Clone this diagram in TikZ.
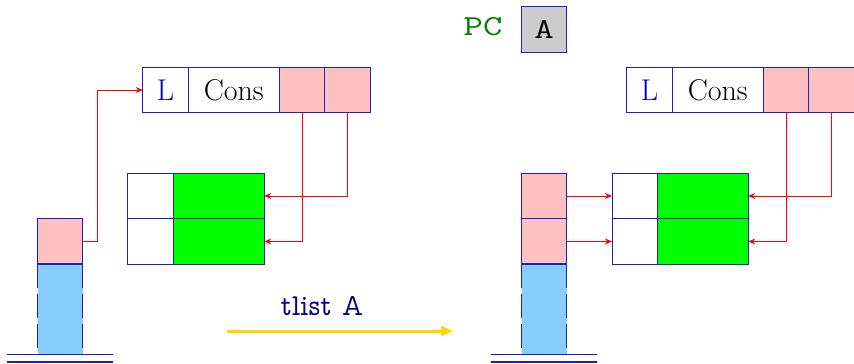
\documentclass[tikz,border=0pt]{standalone}
\usepackage{fontspec}
\usetikzlibrary{arrows.meta}
\definecolor{cellblue}{RGB}{30,30,200}
\definecolor{pinkc}{RGB}{255,192,192}
\definecolor{greenc}{RGB}{0,255,0}
\definecolor{skyc}{RGB}{135,206,250}
\definecolor{grayc}{RGB}{204,204,204}
\definecolor{pcgreen}{RGB}{0,128,0}
\definecolor{navyc}{RGB}{0,0,150}
\definecolor{goldc}{RGB}{255,215,0}
\definecolor{lblue}{RGB}{0,0,200}
\newcommand{\widett}[1]{\scalebox{1.3}[1]{\ttfamily\fontsize{29}{31}\selectfont #1}}
\newcommand{\tlabel}[1]{\scalebox{0.93}[1]{\fontfamily{lmvtt}\fontsize{30.5}{32}\selectfont #1}}
\tikzset{
  cell/.style={draw=cellblue, line width=1pt, minimum width=45.5pt, minimum height=45.5pt, inner sep=0pt, outer sep=0pt, font=\fontsize{30}{32}\selectfont},
  wide/.style={cell, minimum width=91pt},
  pinkcell/.style={cell, fill=pinkc},
  greencell/.style={wide, fill=greenc},
  ptr/.style={red, line width=1pt, -{Stealth[length=7pt,width=6pt]}},
  ground/.style={cellblue, line width=1.3pt},
  stackside/.style={cellblue, line width=1pt, dash pattern=on 24pt off 6pt},
}
\begin{document}
\begin{tikzpicture}[x=1pt,y=-1pt]
\useasboundingbox (0,0) rectangle (854,364);
% ---- left state ----
\node[cell, text=lblue] (L1) at (165.5,90) {L};
\node[wide] (C1) at (233.75,90) {Cons};
\node[pinkcell] (P1a) at (302,90) {};
\node[pinkcell] (P1b) at (347.5,90) {};
\node[cell] (W1a) at (150.5,196) {};
\node[greencell] (G1a) at (218.75,196) {};
\node[cell] (W1b) at (150.5,241.5) {};
\node[greencell] (G1b) at (218.75,241.5) {};
% left stack
\fill[skyc] (37.5,264.25) rectangle (82.5,354.3);
\draw[stackside] (37.5,264.25) -- (37.5,354.3);
\draw[stackside] (82.5,264.25) -- (82.5,354.3);
\node[pinkcell, minimum width=45pt] (S1) at (60,241.5) {};
\draw[cellblue, line width=1.6pt] (S1.south west) -- (S1.south east);
\draw[ground] (7.3,354.3) -- (112.7,354.3);
\draw[ground] (7.3,362) -- (112.7,362);
\draw[ptr] (S1.east) -- ++(15,0) |- (L1.west);
\draw[ptr] (P1a.south) |- (G1b.east);
\draw[ptr] (P1b.south) |- (G1a.east);
% ---- transition ----
\draw[goldc, line width=3pt, -{Triangle[length=12pt,width=10pt]}] (227,331) coordinate (T0) -- (453,331) coordinate (T1);
\node[text=navyc] (TL) at (322,306) {\tlabel{tlist A}};
% ---- right state ----
\node[text=pcgreen] (PC) at (483,27) {\widett{PC}};
\node[cell, fill=grayc] (A) at (544,29.3) {\widett{A}};
\node[cell, text=lblue] (L2) at (649.5,90) {L};
\node[wide] (C2) at (717.75,90) {Cons};
\node[pinkcell] (P2a) at (786,90) {};
\node[pinkcell] (P2b) at (831.5,90) {};
\node[cell] (W2a) at (634.75,196) {};
\node[greencell] (G2a) at (702.75,196) {};
\node[cell] (W2b) at (634.75,241.5) {};
\node[greencell] (G2b) at (702.75,241.5) {};
% right stack
\fill[skyc] (521.5,264.25) rectangle (566.5,354.3);
\draw[stackside] (521.5,264.25) -- (521.5,354.3);
\draw[stackside] (566.5,264.25) -- (566.5,354.3);
\node[pinkcell, minimum width=45pt] (S2a) at (544,196) {};
\node[pinkcell, minimum width=45pt] (S2b) at (544,241.5) {};
\draw[cellblue, line width=1.6pt] (S2b.south west) -- (S2b.south east);
\draw[ground] (491,354.3) -- (596.7,354.3);
\draw[ground] (491,362) -- (596.7,362);
\draw[ptr] (S2a.east) -- (W2a.west);
\draw[ptr] (S2b.east) -- (W2b.west);
\draw[ptr] (P2a.south) |- (G2b.east);
\draw[ptr] (P2b.south) |- (G2a.east);
\end{tikzpicture}
\end{document}
